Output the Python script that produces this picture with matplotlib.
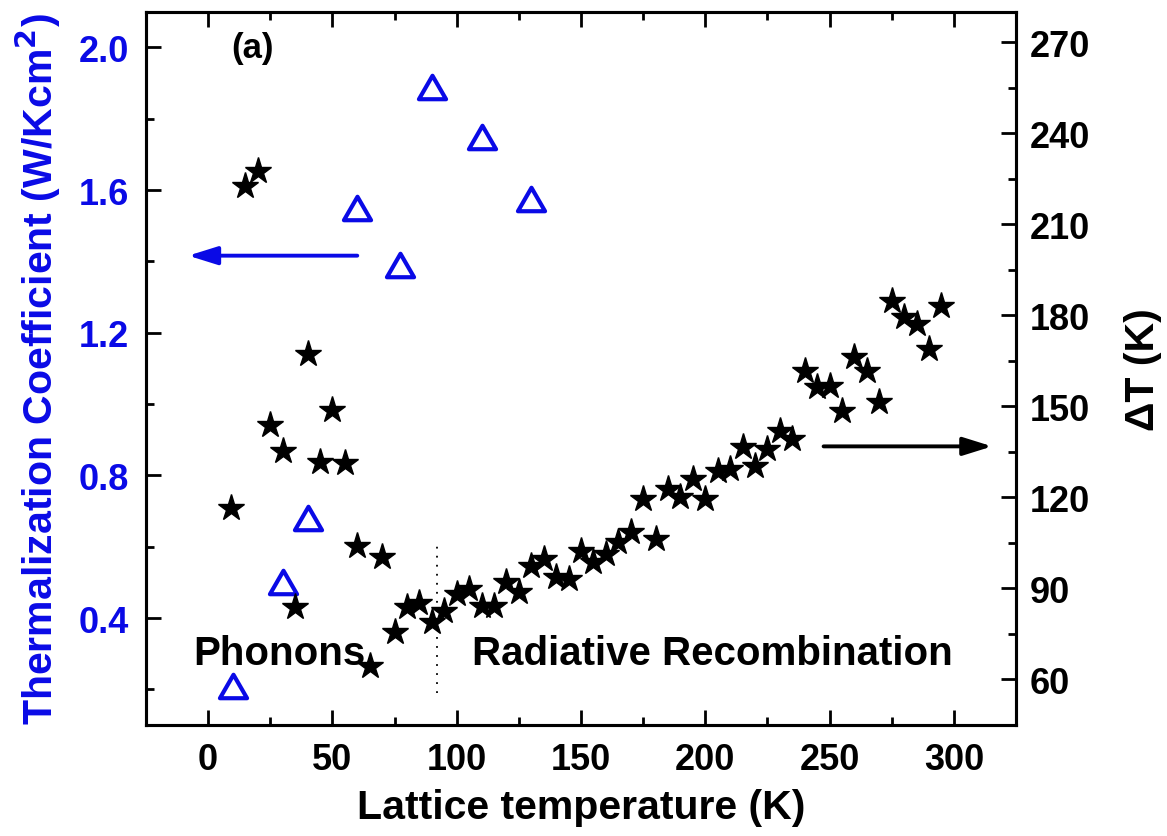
import numpy as np
import matplotlib
matplotlib.use("Agg")
import matplotlib.pyplot as plt
from matplotlib.path import Path
from matplotlib.ticker import MultipleLocator

plt.rcParams['font.family'] = ['Liberation Sans', 'DejaVu Sans']
plt.rcParams['font.weight'] = 'bold'

# thermalization coefficient (left axis, open triangles)
tri_temp = [10, 30, 40, 60, 77, 90, 110, 130]
tri_coef = [0.21, 0.50, 0.68, 1.55, 1.39, 1.89, 1.75, 1.575]

# Delta T (right axis, stars)
star_temp = [9, 15, 20, 25, 30, 35, 40, 45, 50, 55, 60, 65, 70, 75, 80, 85, 90, 95,
             100, 105, 110, 115, 120, 125, 130, 135, 140, 145, 150, 155, 160, 165,
             170, 175, 180, 185, 190, 195, 200, 205, 210, 215, 220, 225, 230, 235,
             240, 245, 250, 255, 260, 265, 270, 275, 280, 285, 290, 295]
star_dT = [116.4, 222.7, 227.6, 143.8, 135.4, 83.8, 167.2, 131.5, 148.8, 131.2,
           103.9, 64.5, 100.2, 75.5, 83.8, 85.2, 79.0, 82.6, 88.1, 89.8, 84.3, 84.3,
           92.0, 88.7, 97.5, 99.7, 93.6, 93.1, 102.4, 98.6, 101.3, 105.2, 108.5,
           119.4, 106.3, 122.7, 120.0, 126.0, 119.4, 128.8, 129.3, 136.5, 130.4,
           135.9, 141.9, 139.2, 161.7, 156.2, 156.8, 148.5, 166.1, 161.7, 151.3,
           184.8, 179.3, 177.1, 168.9, 183.1]

blue = '#0a0ae6'

# equilateral open triangle marker
tri_marker = Path([(-1, -0.866), (1, -0.866), (0, 0.866), (-1, -0.866)], closed=True)

fig = plt.figure(figsize=(11.67, 8.37), dpi=100)
ax = fig.add_axes([0.1251, 0.1326, 0.7455, 0.8522])
ax2 = ax.twinx()

ax.plot(tri_temp, tri_coef, linestyle='none', marker=tri_marker, markersize=19.5,
        markerfacecolor='none', markeredgecolor=blue, markeredgewidth=3)
ax2.plot(star_temp, star_dT, linestyle='none', marker='*', markersize=19.5,
         color='black')

ax.set_xlim(-25, 325)
ax.set_ylim(0.1, 2.1)
ax2.set_ylim(45, 280)

ax.xaxis.set_major_locator(MultipleLocator(50))
ax.xaxis.set_minor_locator(MultipleLocator(25))
ax.yaxis.set_minor_locator(MultipleLocator(0.2))
ax.set_yticks(np.arange(0.4, 2.01, 0.4))
ax2.yaxis.set_major_locator(MultipleLocator(30))
ax2.yaxis.set_minor_locator(MultipleLocator(15))

for a in (ax, ax2):
    for s in a.spines.values():
        s.set_linewidth(2.2)

ax.tick_params(which='both', direction='in', top=True, right=False, width=2)
ax.tick_params(which='major', length=10.5)
ax.tick_params(which='minor', length=5.5)
ax.tick_params(axis='x', labelsize=26, pad=12)
ax.tick_params(axis='y', labelsize=26, pad=12, labelcolor=blue)
ax2.tick_params(which='both', direction='in', width=2, labelsize=26, pad=10)
ax2.tick_params(which='major', length=10.5)
ax2.tick_params(which='minor', length=5.5)
ax.yaxis.set_major_formatter(matplotlib.ticker.FormatStrFormatter('%.1f'))

ax.set_xlabel('Lattice temperature (K)', fontsize=29.5, fontweight='bold')
ax.xaxis.set_label_coords(0.5, -0.115)
ax.xaxis.label.set_verticalalignment('center')
ax.set_ylabel('Thermalization Coefficient (W/Kcm$^\\mathbf{2}$)', fontsize=29.5,
              fontweight='bold', color=blue)
ax.yaxis.set_label_coords(-0.124, 0.5)
ax.yaxis.label.set_verticalalignment('center')
ax2.set_ylabel('\u0394T (K)', fontsize=29.5, fontweight='bold')
ax2.yaxis.set_label_coords(1.146, 0.5)
ax2.yaxis.label.set_verticalalignment('center')

ax.text(18, 2.0, '(a)', fontsize=25, fontweight='bold', ha='center', va='center')
ax.text(-6, 0.271, 'Phonons', fontsize=29, fontweight='bold', ha='left', va='baseline')
ax.text(106, 0.271, 'Radiative Recombination', fontsize=29, fontweight='bold',
        ha='left', va='baseline')

ax.plot([92, 92], [0.19, 0.61], color='black', lw=1.3, linestyle=(0, (1, 4)))

ax.annotate('', xy=(-8, 1.416), xytext=(60, 1.416),
            arrowprops=dict(arrowstyle='-|>,head_length=0.8,head_width=0.25',
                            color=blue, lw=2.8, mutation_scale=22,
                            shrinkA=0, shrinkB=0))
ax2.annotate('', xy=(315.4, 136.8), xytext=(247.6, 136.8),
             arrowprops=dict(arrowstyle='-|>,head_length=0.8,head_width=0.25',
                             color='black', lw=2.8, mutation_scale=22,
                             shrinkA=0, shrinkB=0))

fig.savefig('out.png', dpi=100)
